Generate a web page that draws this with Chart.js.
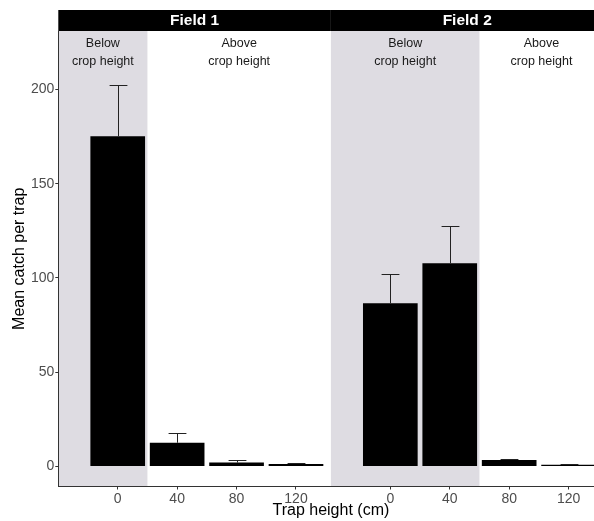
<!DOCTYPE html>
<html>
<head>
<meta charset="utf-8">
<script src="https://cdn.jsdelivr.net/npm/chart.js@4"></script>
<style>
  html, body { margin: 0; padding: 0; background: #fff; overflow: hidden; }
  #wrap { width: 594px; height: 521px; overflow: hidden; }
</style>
</head>
<body>
<div id="wrap"><canvas id="chart" width="610" height="521"></canvas></div>
<script>
// trap heights (cm)
const heights = [0, 40, 80, 120];
const heightLabels = ['0', '40', '80', '120'];
const fields = ['Field 1', 'Field 2'];
// mean catch per trap, and top of the error bar
const field1Mean = [175.2, 12.6, 2.1, 1.4];
const field1Upper = [202.1, 17.8, 3.3, 2.0];
const field2Mean = [86.6, 107.8, 3.5, 0.9];
const field2Upper = [102.1, 127.6, 4.1, 1.4];
const yTicks = [0, 50, 100, 150, 200];
// crop height in each field (end of shaded zone)
const cropLimit = [20, 60];
const belowText = ['Below', 'crop height'];
const aboveText = ['Above', 'crop height'];

// each facet spans the same x range, placed side by side on one axis
const panelMin = -40, panelMax = 143.5;
const shift = panelMax - panelMin;

const means = [field1Mean, field2Mean];
const uppers = [field1Upper, field2Upper];

const tickValues = [];
const tickText = [];
fields.forEach(function (f, p) {
  heights.forEach(function (h, i) {
    tickValues.push(h + p * shift);
    tickText.push(heightLabels[i]);
  });
});

const datasets = fields.map(function (f, p) {
  return {
    label: f,
    data: heights.map(function (h, i) { return { x: h + p * shift, y: means[p][i] }; }),
    backgroundColor: '#000',
    borderWidth: 0,
    grouped: false,
    barPercentage: 0.92,
    categoryPercentage: 1
  };
});

const facetPlugin = {
  id: 'facets',
  beforeDraw(chart) {
    const ctx = chart.ctx;
    const x = chart.scales.x;
    const area = chart.chartArea;
    ctx.save();
    fields.forEach(function (f, p) {
      const left = x.getPixelForValue(panelMin + p * shift);
      const right = x.getPixelForValue(panelMax + p * shift);
      const crop = x.getPixelForValue(cropLimit[p] + p * shift);
      // shaded "below crop height" zone
      ctx.fillStyle = '#dedce2';
      ctx.fillRect(left, area.top, crop - left, area.bottom - area.top);
      // strip
      ctx.fillStyle = '#000';
      ctx.fillRect(left, 10, right - left, area.top - 10);
      ctx.fillStyle = '#fff';
      ctx.font = 'bold 15.5px "Liberation Sans", Arial, sans-serif';
      ctx.textAlign = 'center';
      ctx.textBaseline = 'middle';
      ctx.fillText(f, (left + right) / 2, (10 + area.top) / 2 + 0.5);
      // zone labels
      ctx.fillStyle = '#1a1a1a';
      ctx.font = '12.5px "Liberation Sans", Arial, sans-serif';
      const bx = (left + crop) / 2;
      const ax = (crop + right) / 2;
      [belowText, aboveText].forEach(function (lines, k) {
        lines.forEach(function (t, j) {
          ctx.fillText(t, k === 0 ? bx : ax, 44 + j * 17.7);
        });
      });
    });
    ctx.restore();
  },
  afterDatasetsDraw(chart) {
    const ctx = chart.ctx;
    const x = chart.scales.x;
    const y = chart.scales.y;
    ctx.save();
    ctx.strokeStyle = '#222';
    ctx.lineWidth = 1;
    fields.forEach(function (f, p) {
      heights.forEach(function (h, i) {
        const cx = Math.round(x.getPixelForValue(h + p * shift)) + 0.5;
        const y0 = y.getPixelForValue(means[p][i]);
        const y1 = Math.round(y.getPixelForValue(uppers[p][i])) + 0.5;
        const half = x.getPixelForValue(6) - x.getPixelForValue(0);
        ctx.beginPath();
        ctx.moveTo(cx, y0);
        ctx.lineTo(cx, y1);
        ctx.moveTo(cx - half, y1);
        ctx.lineTo(cx + half, y1);
        ctx.stroke();
      });
    });
    ctx.restore();
  }
};

Chart.defaults.font.family = '"Liberation Sans", Arial, sans-serif';

new Chart(document.getElementById('chart'), {
  type: 'bar',
  data: { datasets: datasets },
  options: {
    responsive: false,
    animation: false,
    devicePixelRatio: 1,
    layout: { padding: { top: 31, right: 6.5, left: 0, bottom: 0 } },
    plugins: { legend: { display: false }, tooltip: { enabled: false } },
    scales: {
      x: {
        type: 'linear',
        offset: false,
        min: panelMin,
        max: panelMax + shift,
        afterBuildTicks: function (scale) {
          scale.ticks = tickValues.map(function (v) { return { value: v }; });
        },
        afterFit: function (scale) { scale.height = 34.5; },
        grid: { drawOnChartArea: false, offset: false, tickLength: 3, color: '#333' },
        border: { color: '#333', width: 1 },
        ticks: {
          autoSkip: false,
          maxRotation: 0,
          padding: 1,
          color: '#4d4d4d',
          font: { size: 14 },
          callback: function (v, i) { return tickText[i]; }
        },
        title: {
          display: true,
          text: 'Trap height (cm)',
          color: '#000',
          font: { size: 16 },
          padding: { top: 0, bottom: 1 }
        }
      },
      y: {
        min: -10.6,
        max: 231,
        afterBuildTicks: function (scale) {
          scale.ticks = yTicks.map(function (v) { return { value: v }; });
        },
        afterFit: function (scale) { scale.width = 58.3; },
        grid: { drawOnChartArea: false, tickLength: 3, color: '#333' },
        border: { color: '#333', width: 1 },
        ticks: { padding: 1, color: '#4d4d4d', font: { size: 14 } },
        title: {
          display: true,
          text: 'Mean catch per trap',
          color: '#000',
          font: { size: 16 },
          padding: { top: 10, bottom: 0 }
        }
      }
    }
  },
  plugins: [facetPlugin]
});
</script>
</body>
</html>
